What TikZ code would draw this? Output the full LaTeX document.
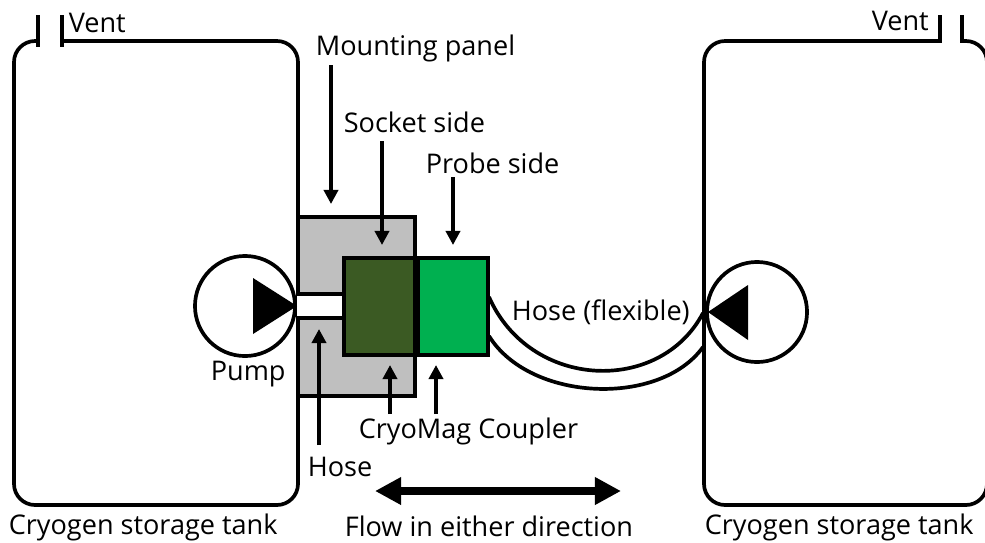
\documentclass[tikz,border=0pt]{standalone}
\usepackage{fontspec}
\setmainfont{Open Sans}
\usepackage{tikz}
\usetikzlibrary{arrows.meta}
\definecolor{panelgray}{HTML}{BFBFBF}
\definecolor{socketgreen}{HTML}{3B5A23}
\definecolor{probegreen}{HTML}{00B050}
\begin{document}
\begin{tikzpicture}[x=0.01cm, y=-0.01cm, line width=1.05pt, font=\fontsize{7.7pt}{9pt}\selectfont,
		label/.style={inner sep=0pt, anchor=west},
		callout/.style={-{Triangle[length=4pt, width=4pt]}, line width=1.2pt},
		flow/.style={{Triangle[length=7.4pt, width=7.4pt]}-{Triangle[length=7.4pt, width=7.4pt]}, line width=2.3pt},
		block/.style={draw, inner sep=0pt}]
	\useasboundingbox (0,0) rectangle (985,542);
	
	% Tanks
	\draw[rounded corners=6pt] (38,41) -- (14,41) -- (14,505) -- (298,505) -- (298,41) -- (62,41);
	\draw[rounded corners=6pt] (940,41) -- (704,41) -- (704,505) -- (987,505) -- (987,41) -- (962,41);
	
	% Vents
	\coordinate (ventLa) at (38,15);
	\coordinate (ventLb) at (38,47);
	\coordinate (ventLc) at (62,15);
	\coordinate (ventLd) at (62,47);
	\coordinate (ventRa) at (940,15);
	\coordinate (ventRb) at (940,43);
	\coordinate (ventRc) at (962,15);
	\coordinate (ventRd) at (962,43);
	\draw (ventLa) -- (ventLb);
	\draw (ventLc) -- (ventLd);
	\draw (ventRa) -- (ventRb);
	\draw (ventRc) -- (ventRd);
	
	% Pumps
	\node[block, circle, minimum size=1.0cm, fill=white] (pumpL) at (245,306) {};
	\node[block, circle, minimum size=1.0cm, fill=white] (pumpR) at (757,312) {};
	
	% Coupler
	\node[block, fill=panelgray, minimum width=1.17cm, minimum height=1.79cm] (panel) at (356.5,306.5) {};
	\node[fill=white, inner sep=0pt, outer sep=0pt, minimum width=0.47cm, minimum height=0.24cm] (hoseL) at (321,306) {};
	\draw (hoseL.north west) -- (hoseL.north east);
	\draw (hoseL.south west) -- (hoseL.south east);
	\node[block, fill=socketgreen, minimum width=0.705cm, minimum height=0.97cm] (socket) at (379.2,306.5) {};
	\node[block, fill=probegreen, minimum width=0.705cm, minimum height=0.97cm] (probe) at (452.8,306.5) {};
	\draw[line width=2pt, xshift=0.015cm] (socket.north east) -- (socket.south east);
	
	% Pump triangles
	\fill (253,278) -- (297,306) -- (253,334) -- cycle;
	\fill (748,285) -- (708,312) -- (748,340) -- cycle;
	
	% Flexible hose
	\coordinate (hoseUa) at (489,297);
	\coordinate (hoseUb) at (703,313);
	\coordinate (hoseLa) at (489,336);
	\coordinate (hoseLb) at (703,347);
	\draw (hoseUa) .. controls (530,390) and (660,395) .. (hoseUb);
	\draw (hoseLa) .. controls (530,402) and (660,407) .. (hoseLb);
	
	% Labels
	\node[label] (ventL) at (67,23) {Vent};
	\node[label] (ventR) at (870,21) {Vent};
	\node[label] (mounting) at (314,48) {Mounting panel};
	\node[label] (socketTxt) at (342,122) {Socket side};
	\node[label] (probeTxt) at (424,163) {Probe side};
	\node[label] (hoseFlex) at (510,312) {Hose (flexible)};
	\node[label] (pumpTxt) at (209,374) {Pump};
	\node[label] (couplerTxt) at (357,431) {CryoMag Coupler};
	\node[label] (hoseTxt) at (306,467) {Hose};
	\node[label] (flowTxt) at (343,526) {Flow in either direction};
	\node[label] (tankL) at (7,527) {Cryogen storage tank};
	\node[label] (tankR) at (703,527) {Cryogen storage tank};
	
	% Pointers
	\coordinate (mountA) at (331,65);
	\coordinate (mountB) at (331,204);
	\coordinate (socketA) at (382,141);
	\coordinate (socketB) at (382,245);
	\coordinate (probeA) at (453,177);
	\coordinate (probeB) at (453,245);
	\coordinate (hoseA) at (319,445);
	\coordinate (hoseB) at (319,329);
	\coordinate (couplerA) at (390,414);
	\coordinate (couplerB) at (390,365);
	\coordinate (couplerC) at (436,414);
	\coordinate (couplerD) at (436,365);
	\draw[callout] (mountA) -- (mountB);
	\draw[callout] (socketA) -- (socketB);
	\draw[callout] (probeA) -- (probeB);
	\draw[callout] (hoseA) -- (hoseB);
	\draw[callout] (couplerA) -- (couplerB);
	\draw[callout] (couplerC) -- (couplerD);
	
	% Flow
	\coordinate (flowA) at (375,491);
	\coordinate (flowB) at (621,491);
	\draw[flow] (flowA) -- (flowB);
\end{tikzpicture}
\end{document}
